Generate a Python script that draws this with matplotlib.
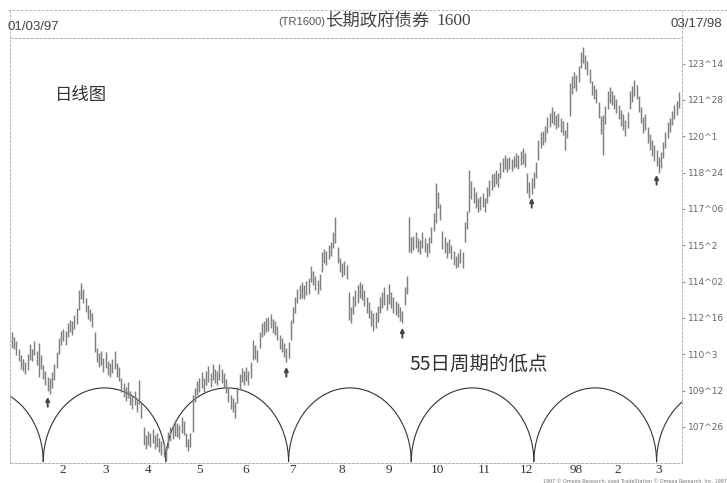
import matplotlib
matplotlib.use('Agg')
import matplotlib.pyplot as plt
from matplotlib.patches import Arc
from matplotlib.lines import Line2D
import numpy as np

# daily highs / lows, T-bond futures 01/03/97 - 03/17/98
highs = [
    111.89, 111.68, 111.51, 111.16, 110.90, 110.73, 110.60, 110.95, 111.38, 111.16,
    111.51, 111.08, 111.42, 110.90, 110.47, 110.22, 109.96, 109.92, 110.17, 110.52,
    111.03, 111.64, 111.94, 112.02, 111.94, 112.28, 112.41, 112.37, 112.62, 112.93,
    113.70, 114.00, 113.74, 113.36, 113.05, 112.88, 112.71, 111.89, 111.21, 110.99,
    111.08, 110.78, 111.03, 110.65, 110.56, 110.73, 111.08, 110.56, 110.39, 109.92,
    109.70, 109.53, 109.74, 109.36, 109.18, 109.36, 109.06, 109.83, 108.88, 107.81,
    107.47, 107.64, 107.55, 107.72, 107.47, 107.55, 107.34, 107.21, 107.12, 106.99,
    107.59, 107.81, 107.90, 108.11, 107.98, 107.90, 108.24, 108.07, 107.55, 107.29,
    107.55, 109.19, 109.49, 109.79, 109.92, 110.17, 109.92, 110.22, 110.43, 110.13,
    110.52, 110.30, 110.22, 110.52, 110.30, 110.13, 109.87, 109.49, 109.19, 109.06,
    108.88, 109.53, 110.09, 110.35, 110.22, 110.39, 110.22, 110.60, 111.55, 111.33,
    111.12, 111.89, 112.28, 112.37, 112.50, 112.54, 112.67, 112.45, 112.37, 112.15,
    111.76, 111.64, 111.42, 111.21, 111.46, 112.41, 112.97, 113.40, 113.74, 113.91,
    114.04, 113.91, 114.09, 114.22, 114.73, 114.52, 114.30, 114.13, 114.39, 115.33,
    115.46, 115.38, 115.64, 115.76, 116.19, 116.84, 115.55, 115.08, 114.86, 114.95,
    114.78, 113.60, 112.97, 113.44, 113.70, 113.91, 114.04, 113.96, 113.70, 113.40,
    113.18, 112.84, 112.71, 112.75, 113.01, 113.40, 113.61, 113.83, 113.53, 113.96,
    113.61, 113.40, 113.23, 113.14, 112.97, 112.80, 113.83, 114.30, 116.84, 115.98,
    116.02, 116.19, 115.94, 115.85, 116.19, 115.94, 115.72, 115.98, 116.41, 117.01,
    118.30, 117.91, 117.40, 116.24, 115.98, 115.76, 115.89, 115.64, 115.38, 115.16,
    115.29, 115.46, 115.33, 116.62, 117.10, 118.86, 118.39, 118.13, 117.91, 117.66,
    117.74, 117.87, 117.66, 118.13, 118.43, 118.69, 118.73, 118.86, 118.73, 119.20,
    119.38, 119.50, 119.38, 119.42, 119.33, 119.46, 119.59, 119.50, 119.68, 119.81,
    119.59, 118.73, 118.34, 118.52, 118.77, 119.20, 120.15, 120.49, 120.54, 120.75,
    121.14, 121.31, 121.57, 121.40, 121.23, 121.31, 121.10, 120.97, 120.58, 120.92,
    122.60, 122.90, 123.07, 122.95, 123.33, 123.93, 124.15, 123.81, 123.55, 123.20,
    122.69, 122.52, 122.34, 121.78, 121.18, 121.23, 121.61, 122.26, 122.43, 122.26,
    122.09, 121.91, 121.66, 121.44, 121.27, 121.01, 121.35, 122.26, 122.47, 122.73,
    122.52, 122.04, 121.57, 121.14, 121.27, 120.71, 120.41, 120.15, 119.94, 119.72,
    119.42, 119.63, 120.06, 120.49, 120.92, 121.10, 121.40, 121.66, 121.83, 122.21,
]
lows = [
    111.21, 111.16, 110.90, 110.65, 110.30, 110.22, 110.09, 110.26, 110.69, 110.65,
    110.90, 110.47, 109.96, 110.30, 109.87, 109.61, 109.36, 109.23, 109.49, 109.83,
    110.35, 110.95, 111.33, 111.51, 111.33, 111.68, 111.89, 111.76, 112.02, 112.24,
    112.84, 113.31, 113.14, 112.75, 112.45, 112.37, 112.11, 111.03, 110.60, 110.39,
    110.47, 110.17, 110.35, 110.04, 109.96, 110.13, 110.30, 109.96, 109.79, 109.31,
    109.10, 108.93, 109.06, 108.75, 108.58, 108.75, 108.45, 108.80, 108.20, 107.04,
    106.86, 107.04, 106.95, 107.12, 106.86, 106.95, 106.73, 106.61, 106.52, 106.39,
    106.91, 107.21, 107.29, 107.42, 107.38, 107.29, 107.55, 107.47, 106.95, 106.78,
    106.95, 107.60, 108.88, 109.19, 109.31, 109.49, 109.31, 109.61, 109.74, 109.53,
    109.83, 109.70, 109.61, 109.83, 109.70, 109.53, 109.27, 108.88, 108.58, 108.45,
    108.20, 108.84, 109.40, 109.74, 109.61, 109.79, 109.61, 109.92, 110.69, 110.73,
    110.60, 111.21, 111.68, 111.76, 111.89, 111.94, 112.07, 111.85, 111.76, 111.55,
    111.16, 111.03, 110.82, 110.60, 110.78, 111.55, 112.28, 112.71, 113.14, 113.31,
    113.36, 113.31, 113.48, 113.53, 114.04, 113.91, 113.70, 113.53, 113.70, 114.47,
    114.86, 114.78, 115.03, 115.16, 115.51, 115.72, 114.86, 114.47, 114.26, 114.35,
    114.17, 112.40, 112.28, 112.67, 113.01, 113.14, 113.36, 113.27, 113.01, 112.71,
    112.50, 112.15, 111.94, 112.07, 112.32, 112.71, 112.93, 113.06, 112.84, 113.10,
    112.93, 112.71, 112.63, 112.54, 112.37, 112.28, 113.06, 113.53, 115.33, 115.29,
    115.42, 115.51, 115.33, 115.25, 115.51, 115.33, 115.12, 115.29, 115.72, 116.24,
    116.58, 117.23, 116.71, 115.46, 115.29, 115.08, 115.29, 115.03, 114.78, 114.65,
    114.69, 114.86, 114.65, 115.76, 116.32, 117.05, 117.61, 117.44, 117.23, 117.05,
    117.14, 117.27, 117.05, 117.44, 117.74, 118.00, 118.13, 118.26, 118.13, 118.52,
    118.77, 118.90, 118.77, 118.90, 118.82, 118.95, 118.99, 118.90, 119.07, 119.12,
    118.99, 117.87, 117.66, 117.83, 118.09, 118.52, 119.29, 119.81, 119.93, 120.06,
    120.45, 120.71, 120.88, 120.80, 120.62, 120.71, 120.49, 120.37, 119.72, 120.24,
    121.20, 122.13, 122.39, 122.26, 122.64, 123.25, 123.46, 123.20, 122.95, 122.60,
    122.09, 121.91, 121.74, 121.10, 120.41, 119.51, 120.84, 121.48, 121.74, 121.66,
    121.48, 121.31, 121.05, 120.75, 120.58, 120.32, 120.67, 121.48, 121.78, 122.04,
    121.91, 121.35, 120.88, 120.45, 120.58, 120.02, 119.72, 119.46, 119.25, 119.03,
    118.73, 118.95, 119.38, 119.81, 120.24, 120.49, 120.80, 121.05, 121.23, 121.53,
]

# 55-day cycle lows (trading-day index) and the arc height
cycle_lows = [14, 69, 124, 179, 234, 289]
cycle_len = 55
arc_base = 106.30
arc_top = 109.49

# small arrows under the marked lows
arrow_days = [16, 123, 175, 233, 289]
arrow_tips = [109.10, 110.39, 112.07, 117.66, 118.65]

price_ticks = [107.8125, 109.375, 110.9375, 112.5, 114.0625, 115.625,
               117.1875, 118.75, 120.3125, 121.875, 123.4375]
price_labels = ["107^26", "109^12", "110^3", "112^16", "114^02", "115^2",
                "117^06", "118^24", "120^1", "121^28", "123^14"]
month_pos = [22.7, 42.0, 61.0, 83.9, 104.9, 125.6, 148.0, 169.1, 190.6,
             211.7, 230.5, 252.9, 271.7, 289.7]
month_labels = ["2", "3", "4", "5", "6", "7", "8", "9", "10", "11", "12",
                "98", "2", "3"]

W, H = 727, 483
fig = plt.figure(figsize=(W / 100, H / 100), dpi=100)
fig.patch.set_facecolor("white")

def fx(x):
    return x / W

def fy(y):
    return 1 - y / H

ax = fig.add_axes([fx(10), fy(463), fx(682) - fx(10), fy(38) - fy(463)])
days = np.arange(len(highs))
ax.vlines(days, lows, highs, color="#808080", linewidth=1.05)

for c in cycle_lows + [cycle_lows[0] - cycle_len]:
    arc = Arc((c + cycle_len / 2, arc_base), cycle_len, 2 * (arc_top - arc_base),
              theta1=0, theta2=180, color="#333333", linewidth=0.8)
    ax.add_patch(arc)

for d, p in zip(arrow_days, arrow_tips):
    ax.annotate("", xy=(d, p), xytext=(0, -7), textcoords="offset points",
                arrowprops=dict(arrowstyle="-|>", color="#444444", lw=1.4,
                                mutation_scale=5.5, shrinkA=0, shrinkB=0))

ax.set_xlim(-0.9, 300.4)
ax.set_ylim(106.26, 124.54)

ax.yaxis.tick_right()
ax.set_yticks(price_ticks)
ax.set_yticklabels(price_labels, fontsize=6.5, color="#666666")
ax.tick_params(axis="y", length=2, color="#999999", pad=2)

ax.set_xticks(month_pos)
ax.set_xticklabels(month_labels, fontsize=9.5, color="#333333",
                   family="Liberation Serif")
ax.tick_params(axis="x", length=0, pad=1)

for s in ax.spines.values():
    s.set_linestyle((0, (3, 2)))
    s.set_color("#aaaaaa")
    s.set_linewidth(0.6)

# header band
fig.add_artist(Line2D([fx(8), fx(727)], [fy(10), fy(10)], color="#aaaaaa",
                      linewidth=0.6, linestyle=(0, (3, 2))))
fig.add_artist(Line2D([fx(10), fx(10)], [fy(10), fy(38)], color="#aaaaaa",
                      linewidth=0.6, linestyle=(0, (3, 2))))
fig.add_artist(Line2D([fx(682), fx(682)], [fy(10), fy(38)], color="#aaaaaa",
                      linewidth=0.6, linestyle=(0, (3, 2))))
fig.text(fx(8), fy(27), "01/03/97", fontsize=9.5, color="#444444",
         family="Liberation Sans", va="center", ha="left")
fig.text(fx(722), fy(24), "03/17/98", fontsize=9.5, color="#444444",
         family="Liberation Sans", va="center", ha="right")
fig.text(fx(325), fy(22), "(TR1600)", fontsize=8, color="#555555",
         family="Liberation Sans", va="center", ha="right")
fig.text(fx(325), fy(21), "长期政府债券", fontsize=12.5, color="#444444",
         family=["Noto Sans CJK SC", "DejaVu Sans"], va="center", ha="left")
fig.text(fx(436), fy(21), "1600", fontsize=12.5, color="#444444",
         family="Liberation Serif", va="center", ha="left")

fig.text(fx(55), fy(95), "日线图", fontsize=12.5, color="#333333",
         family=["Noto Sans CJK SC", "DejaVu Sans"], va="center", ha="left")
fig.text(fx(410), fy(364), "55日周期的低点", fontsize=14, color="#333333",
         family=["Noto Sans CJK SC", "DejaVu Sans"], va="center", ha="left")

fig.text(fx(727), fy(481), "1997 © Omega Research, used TradeStation © Omega Research, Inc. 1997",
         fontsize=3.5, color="#777777", va="center", ha="right")

plt.savefig("out.png", dpi=100)
